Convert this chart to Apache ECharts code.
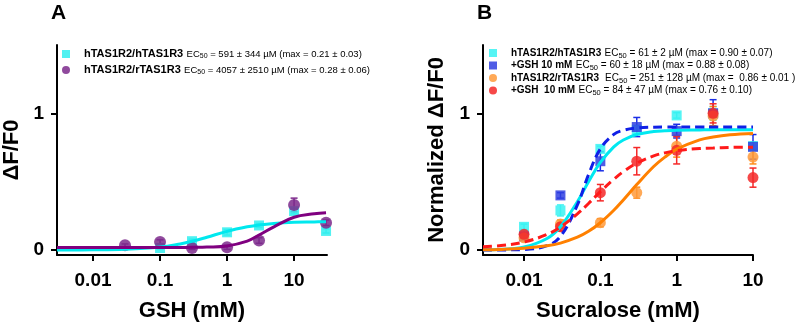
<!DOCTYPE html>
<html>
<head>
<meta charset="utf-8">
<script src="https://cdn.jsdelivr.net/npm/echarts@6/dist/echarts.min.js"></script>
<style>
  html, body { margin: 0; padding: 0; background: #fff; }
  #chart { width: 800px; height: 328px; }
</style>
</head>
<body>
<div id="chart"></div>
<script>
// ---- panel A : GSH ----
const gshConc = [0.03, 0.1, 0.3, 1, 3, 10, 30];
const hhA = [null, 0.015, 0.065, 0.13, 0.18, 0.285, 0.14];
const hhAErr = [null, 0.01, 0.015, 0.02, 0.015, 0.02, 0.015];
const hrA = [0.035, 0.06, 0.015, 0.02, 0.07, 0.33, 0.2];
const hrAErr = [0.01, 0.015, 0.01, 0.015, 0.02, 0.05, 0.02];

// fitted curves
const fitXA = [0.0029, 0.01, 0.03, 0.1, 0.2, 0.3, 0.5, 1, 2, 3, 5, 10, 20, 30];
const hhAFit = [0.001, 0.002, 0.006, 0.022, 0.045, 0.064, 0.094, 0.137, 0.17, 0.184, 0.195, 0.203, 0.206, 0.208];
const hrAFit = [0.018, 0.018, 0.018, 0.018, 0.019, 0.02, 0.022, 0.03, 0.065, 0.11, 0.17, 0.24, 0.265, 0.273];

// ---- panel B : sucralose ----
const sucConc = [0.01, 0.03, 0.1, 0.3, 1, 3, 10];
const hhB = [0.17, 0.29, 0.74, 0.88, 0.985, 1.0, 0.76];
const hhBErr = [0.02, 0.04, 0.02, 0.03, 0.02, 0.05, 0.03];
const hhGshB = [0.1, 0.4, 0.65, 0.9, 0.87, 1.0, 0.755];
const hhGshBErr = [0.02, 0.02, 0.07, 0.07, 0.05, 0.1, 0.09];
const hrB = [0.09, 0.19, 0.2, 0.42, 0.76, 0.98, 0.68];
const hrBErr = [0.02, 0.03, 0.03, 0.04, 0.08, 0.07, 0.05];
const hrGshB = [0.115, 0.17, 0.42, 0.65, 0.73, 1.0, 0.53];
const hrGshBErr = [0.03, 0.03, 0.06, 0.1, 0.1, 0.07, 0.07];

const fitXB = [0.0029, 0.005, 0.01, 0.02, 0.03, 0.05, 0.07, 0.1, 0.15, 0.2, 0.3, 0.5, 0.7, 1, 2, 3, 5, 10];
const hhBFit = [0.002, 0.006, 0.023, 0.085, 0.171, 0.354, 0.5, 0.641, 0.755, 0.805, 0.845, 0.867, 0.873, 0.877, 0.879, 0.88, 0.88, 0.88];
const hhGshBFit = [0, 0.001, 0.004, 0.032, 0.1, 0.33, 0.552, 0.74, 0.846, 0.876, 0.893, 0.899, 0.9, 0.9, 0.9, 0.9, 0.9, 0.9];
const hrBFit = [0.003, 0.005, 0.013, 0.031, 0.051, 0.094, 0.137, 0.2, 0.291, 0.367, 0.479, 0.611, 0.68, 0.738, 0.806, 0.827, 0.843, 0.853];
const hrGshBFit = [0.024, 0.033, 0.059, 0.114, 0.169, 0.265, 0.341, 0.427, 0.518, 0.574, 0.636, 0.689, 0.711, 0.727, 0.743, 0.747, 0.751, 0.753];

// axes
const xTicks = [0.01, 0.1, 1, 10];
const yTicks = [0, 1];

// legend texts: [label, EC50, max]
const legendA = [
  ['hTAS1R2/hTAS1R3', '591 ± 344', '0.21 ± 0.03'],
  ['hTAS1R2/rTAS1R3', '4057 ± 2510', '0.28 ± 0.06']
];
const legendB = [
  ['hTAS1R2/hTAS1R3', '61 ± 2', '0.90 ± 0.07'],
  ['+GSH 10 mM', '60 ± 18', '0.88 ± 0.08'],
  ['hTAS1R2/rTAS1R3 ', '251 ± 128', ' 0.86 ± 0.01 '],
  ['+GSH  10 mM', '84 ± 47', '0.76 ± 0.10']
];

const FONT = 'Liberation Sans, Arial, sans-serif';
const lg = Math.log10;

function pts(xs, ys) {
  const out = [];
  for (let i = 0; i < xs.length; i++) {
    if (ys[i] == null) continue;
    out.push([lg(xs[i]), ys[i]]);
  }
  return out;
}
function errPts(xs, ys, es) {
  const out = [];
  for (let i = 0; i < xs.length; i++) {
    if (ys[i] == null) continue;
    out.push([lg(xs[i]), ys[i], es[i]]);
  }
  return out;
}

function errorBars(color) {
  return function (params, api) {
    const x = api.value(0), y = api.value(1), e = api.value(2);
    const top = api.coord([x, y + e]);
    const bot = api.coord([x, y - e]);
    const w = 3.5;
    const st = { stroke: color, lineWidth: 1.5 };
    return {
      type: 'group',
      children: [
        { type: 'line', shape: { x1: top[0], y1: top[1], x2: bot[0], y2: bot[1] }, style: st },
        { type: 'line', shape: { x1: top[0] - w, y1: top[1], x2: top[0] + w, y2: top[1] }, style: st },
        { type: 'line', shape: { x1: bot[0] - w, y1: bot[1], x2: bot[0] + w, y2: bot[1] }, style: st }
      ]
    };
  };
}

function xAxis(idx, min, max, name) {
  return {
    type: 'value', gridIndex: idx, min: lg(min), max: lg(max),
    name: name, nameLocation: 'middle', nameGap: 45,
    nameTextStyle: { fontFamily: FONT, fontWeight: 'bold', fontSize: 22, color: '#000' },
    axisLine: { onZero: false, lineStyle: { color: '#000', width: 2 } },
    axisTick: { customValues: xTicks.map(lg), length: 6, lineStyle: { color: '#000', width: 2 } },
    axisLabel: {
      customValues: xTicks.map(lg), margin: 16, color: '#000',
      fontFamily: FONT, fontWeight: 'bold', fontSize: 19,
      formatter: v => String(xTicks[Math.round(v) + 2])
    },
    splitLine: { show: false }
  };
}
function yAxis(idx, name, gap) {
  return {
    type: 'value', gridIndex: idx, min: -0.036, max: 1.5,
    name: name, nameLocation: 'middle', nameGap: gap,
    nameTextStyle: { fontFamily: FONT, fontWeight: 'bold', fontSize: 22, color: '#000' },
    axisLine: { onZero: false, lineStyle: { color: '#000', width: 2 } },
    axisTick: { customValues: yTicks, length: 6, lineStyle: { color: '#000', width: 2 } },
    axisLabel: {
      customValues: yTicks, margin: 13, color: '#000',
      fontFamily: FONT, fontWeight: 'bold', fontSize: 19
    },
    splitLine: { show: false }
  };
}

function scatter(name, idx, xs, ys, color, symbol, size) {
  return {
    name: name, type: 'scatter', xAxisIndex: idx, yAxisIndex: idx,
    symbol: symbol, symbolSize: size, clip: false,
    itemStyle: { color: color, opacity: 0.85 },
    data: pts(xs, ys), z: 3
  };
}
function bars(idx, xs, ys, es, color) {
  return {
    type: 'custom', xAxisIndex: idx, yAxisIndex: idx,
    renderItem: errorBars(color), encode: { x: 0, y: 1 },
    data: errPts(xs, ys, es), z: 3
  };
}
function curve(idx, xs, ys, color, dashed) {
  return {
    type: 'line', xAxisIndex: idx, yAxisIndex: idx,
    data: pts(xs, ys), smooth: 0.4, showSymbol: false, silent: true,
    lineStyle: { color: color, width: 3, type: dashed ? [9, 5] : 'solid' }, z: 4
  };
}

const nameMap = {};
function legendItem(key, row) {
  nameMap[key] = row;
  return key;
}
function legendFmt(name) {
  const r = nameMap[name];
  return '{b|' + r[0] + '} {n|EC}{s|50}{n| = ' + r[1] + ' µM (max = ' + r[2] + ')}';
}
function legend(left, top, keys, gap, bSize, nSize, iconSize) {
  return {
    orient: 'vertical', left: left, top: top, itemGap: gap,
    itemWidth: iconSize, itemHeight: iconSize, padding: 0,
    data: keys, formatter: legendFmt, selectedMode: false,
    textStyle: {
      color: '#000', fontFamily: FONT,
      rich: {
        b: { fontFamily: FONT, fontWeight: 'bold', fontSize: bSize, color: '#000', padding: [0, 0, 0, 9] },
        n: { fontFamily: FONT, fontSize: nSize, color: '#000' },
        s: { fontFamily: FONT, fontSize: nSize - 2.5, color: '#000', padding: [5, 0, 0, 0] }
      }
    }
  };
}

const cA = '#33eeee', pA = '#7d2a8c';
const cB = '#38f2f2', bB = '#3040e0', oB = '#ff9a3a', rB = '#f52828';

const kA1 = legendItem('A1', legendA[0]), kA2 = legendItem('A2', legendA[1]);
const kB1 = legendItem('B1', legendB[0]), kB2 = legendItem('B2', legendB[1]);
const kB3 = legendItem('B3', legendB[2]), kB4 = legendItem('B4', legendB[3]);

const chart = echarts.init(document.getElementById('chart'), null, { renderer: 'canvas' });
chart.setOption({
  animation: false,
  backgroundColor: '#fff',
  grid: [
    { left: 57, top: 45, width: 270, height: 210 },
    { left: 483, top: 45, width: 270, height: 210 }
  ],
  xAxis: [xAxis(0, 0.0029, 31, 'GSH (mM)'), xAxis(1, 0.0029, 10, 'Sucralose (mM)')],
  yAxis: [yAxis(0, 'ΔF/F0', 34), yAxis(1, 'Normalized ΔF/F0', 35)],
  legend: [
    legend(62, 48, [kA1, kA2], 4, 11, 9.5, 8),
    legend(489, 47, [kB1, kB2], 0, 10, 10, 8),
    legend(489, 72, [kB3, kB4], 0, 10, 10, 8)
  ],
  graphic: [
    { type: 'text', left: 51, top: 3, style: { text: 'A', fontFamily: FONT, fontWeight: 'bold', fontSize: 21, fill: '#000' } },
    { type: 'text', left: 477, top: 3, style: { text: 'B', fontFamily: FONT, fontWeight: 'bold', fontSize: 21, fill: '#000' } }
  ],
  series: [
    scatter(kA1, 0, gshConc, hhA, cA, 'rect', 10),
    bars(0, gshConc, hhA, hhAErr, cA),
    scatter(kA2, 0, gshConc, hrA, pA, 'circle', 12),
    bars(0, gshConc, hrA, hrAErr, pA),
    curve(0, fitXA, hhAFit, '#00e8ee', false),
    curve(0, fitXA, hrAFit, '#800080', false),

    scatter(kB1, 1, sucConc, hhB, cB, 'rect', 10),
    bars(1, sucConc, hhB, hhBErr, cB),
    scatter(kB2, 1, sucConc, hhGshB, bB, 'rect', 10),
    bars(1, sucConc, hhGshB, hhGshBErr, '#1a2ee6'),
    scatter(kB3, 1, sucConc, hrB, oB, 'circle', 11),
    bars(1, sucConc, hrB, hrBErr, '#ff8c1a'),
    scatter(kB4, 1, sucConc, hrGshB, rB, 'circle', 11),
    bars(1, sucConc, hrGshB, hrGshBErr, rB),
    curve(1, fitXB, hhBFit, '#00e8f0', false),
    curve(1, fitXB, hhGshBFit, '#1020e6', true),
    curve(1, fitXB, hrBFit, '#ff8000', false),
    curve(1, fitXB, hrGshBFit, '#ff1a1a', true)
  ]
});
</script>
</body>
</html>
